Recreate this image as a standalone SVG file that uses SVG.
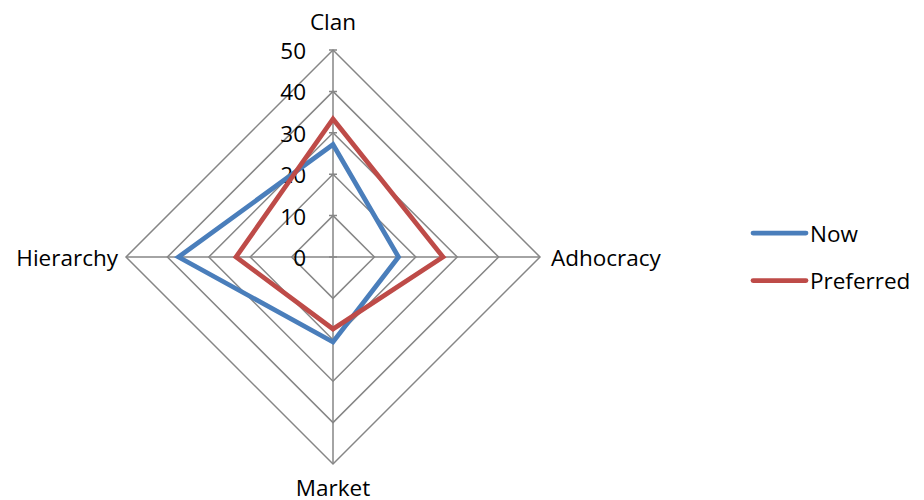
<svg xmlns="http://www.w3.org/2000/svg" width="924" height="500" viewBox="0 0 924 500">
  <style>
    .grid { fill: none; stroke: #868686; stroke-width: 1.5; }
    .txt { font-family: "Open Sans", "Liberation Sans", sans-serif; font-size: 22.5px; fill: #000; }
    .now { fill: none; stroke: #4A7EBB; stroke-width: 4.75; stroke-linejoin: miter; }
    .pref { fill: none; stroke: #BE4B48; stroke-width: 4.75; stroke-linejoin: miter; }
  </style>
  <rect width="924" height="500" fill="#fff"/>

  <!-- radar grid: centre (333,257), 10 units = 41.4 px -->
  <g id="grid">
    <polygon class="grid" points="333,215.6 374.4,257 333,298.4 291.6,257"/>
    <polygon class="grid" points="333,174.2 415.8,257 333,339.8 250.2,257"/>
    <polygon class="grid" points="333,132.8 457.2,257 333,381.2 208.8,257"/>
    <polygon class="grid" points="333,91.4 498.6,257 333,422.6 167.4,257"/>
    <polygon class="grid" points="333,50 540,257 333,464 126,257"/>
    <line class="grid" x1="333" y1="50" x2="333" y2="464"/>
    <line class="grid" x1="126" y1="257" x2="540" y2="257"/>
    <!-- value axis ticks -->
    <path class="grid" d="M329,50H337M329,91.4H337M329,132.8H337M329,174.2H337M329,215.6H337M329,257H337"/>
  </g>

  <!-- value axis labels -->
  <g id="scale" class="txt" text-anchor="end">
    <text x="306" y="58.5">50</text>
    <text x="306" y="100">40</text>
    <text x="306" y="141.5">30</text>
    <text x="306" y="183">20</text>
    <text x="306" y="224.5">10</text>
    <text x="306" y="265.5">0</text>
  </g>

  <!-- category labels -->
  <g id="categories" class="txt">
    <text x="333" y="30" text-anchor="middle">Clan</text>
    <text x="551" y="265.5">Adhocracy</text>
    <text x="333" y="496" text-anchor="middle">Market</text>
    <text x="118" y="265.5" text-anchor="end">Hierarchy</text>
  </g>

  <!-- data series -->
  <g id="series">
    <polygon id="series-now" class="now" points="333,144.5 398.5,257 333,342 178.5,257"/>
    <polygon id="series-preferred" class="pref" points="333,119 443,257 333,329 236,257"/>
  </g>

  <!-- legend -->
  <g id="legend">
    <line x1="753" y1="233" x2="806" y2="233" stroke="#4A7EBB" stroke-width="4.75" stroke-linecap="round"/>
    <text class="txt" x="810" y="241.5">Now</text>
    <line x1="753" y1="280.5" x2="806" y2="280.5" stroke="#BE4B48" stroke-width="4.75" stroke-linecap="round"/>
    <text class="txt" x="810" y="288.5">Preferred</text>
  </g>
</svg>
